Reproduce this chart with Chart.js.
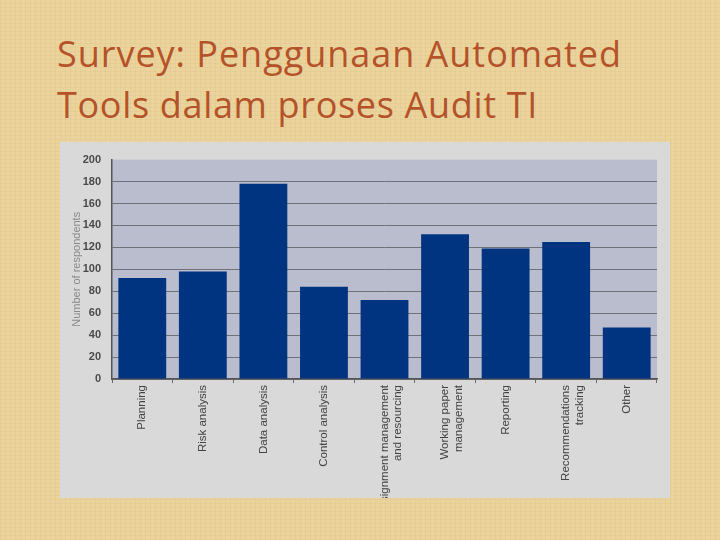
<!DOCTYPE html>
<html>
<head>
<meta charset="utf-8">
<script src="https://cdn.jsdelivr.net/npm/chart.js@4.4.0/dist/chart.umd.min.js"></script>
<style>
html,body{margin:0;padding:0;}
body{width:720px;height:540px;position:relative;overflow:hidden;background-color:#ebd49c;
background-image:repeating-linear-gradient(0deg,rgba(150,110,50,0.06) 0 1px,transparent 1px 4px),repeating-linear-gradient(90deg,rgba(150,110,50,0.06) 0 1px,transparent 1px 5px);}
.tl{position:absolute;left:57px;font-family:'Open Sans','Noto Sans',sans-serif;font-size:36px;line-height:51px;color:#b4532a;white-space:nowrap;}
#panel{position:absolute;left:60px;top:142px;width:610px;height:356px;background:#d9d9d9;}
canvas{display:block;}
</style>
</head>
<body>
<div class="tl" id="t1" style="top:28px">Survey: Penggunaan Automated</div>
<div class="tl" id="t2" style="top:79px">Tools dalam proses Audit TI</div>
<div id="panel"><canvas id="c" width="610" height="356"></canvas></div>
<script>
const categories = [
  'Planning',
  'Risk analysis',
  'Data analysis',
  'Control analysis',
  ['Assignment management', 'and resourcing'],
  ['Working paper', 'management'],
  'Reporting',
  ['Recommendations', 'tracking'],
  'Other'
];
const respondents = [92, 98, 178, 84, 72, 132, 119, 125, 47];
const yTicks = [0, 20, 40, 60, 80, 100, 120, 140, 160, 180, 200];
const yTitle = 'Number of respondents';

// fit title width to reference
(function(){
  const targets = {t1:565, t2:481};
  for (const id in targets) {
    const el = document.getElementById(id);
    const w = el.getBoundingClientRect().width;
    const n = el.textContent.length;
    el.style.letterSpacing = ((targets[id] - w) / n) + 'px';
  }
})();

const plotBg = {
  id: 'plotBg',
  beforeDraw(chart) {
    const {ctx, chartArea: a} = chart;
    ctx.save();
    ctx.fillStyle = '#b9bdcd';
    ctx.fillRect(a.left, a.top, a.right - a.left, a.bottom - a.top);
    ctx.restore();
  }
};

new Chart(document.getElementById('c'), {
  type: 'bar',
  data: {
    labels: categories,
    datasets: [{
      data: respondents,
      backgroundColor: '#003380',
      borderWidth: 0,
      barPercentage: 0.79,
      categoryPercentage: 1
    }]
  },
  options: {
    responsive: false,
    animation: false,
    layout: {padding: {top: 15, right: 13, left: 0, bottom: 0}},
    plugins: {legend: {display: false}, tooltip: {enabled: false}},
    scales: {
      x: {
        grid: {drawOnChartArea: false, drawTicks: true, tickLength: 4, color: '#6a6a6a', offset: true},
        border: {color: '#555555', width: 1.5},
        ticks: {
          minRotation: 90, maxRotation: 90, autoSkip: false, padding: 2,
          color: '#444444',
          font: {family: "'Liberation Sans', Arial, sans-serif", size: 11.5}
        },
        afterFit(s) { s.height = 119; }
      },
      y: {
        min: 0, max: 200,
        afterBuildTicks(s) { s.ticks = yTicks.map(v => ({value: v})); },
        ticks: {
          padding: 11, color: '#4a4a4a',
          font: {family: "'Liberation Sans Narrow', 'Liberation Sans', sans-serif", size: 11, weight: 'bold'}
        },
        grid: {
          drawTicks: false,
          color: (ctx) => (ctx.tick && ctx.tick.value === 200) ? 'rgba(0,0,0,0)' : '#70727a',
          lineWidth: 1
        },
        border: {color: '#555555', width: 1.5},
        title: {
          display: true, text: yTitle, color: '#8a8a8a',
          font: {family: "'Liberation Sans', Arial, sans-serif", size: 11},
          padding: {top: 10, bottom: 0}
        },
        afterFit(s) { s.width = 52; }
      }
    }
  },
  plugins: [plotBg]
});
</script>
</body>
</html>
